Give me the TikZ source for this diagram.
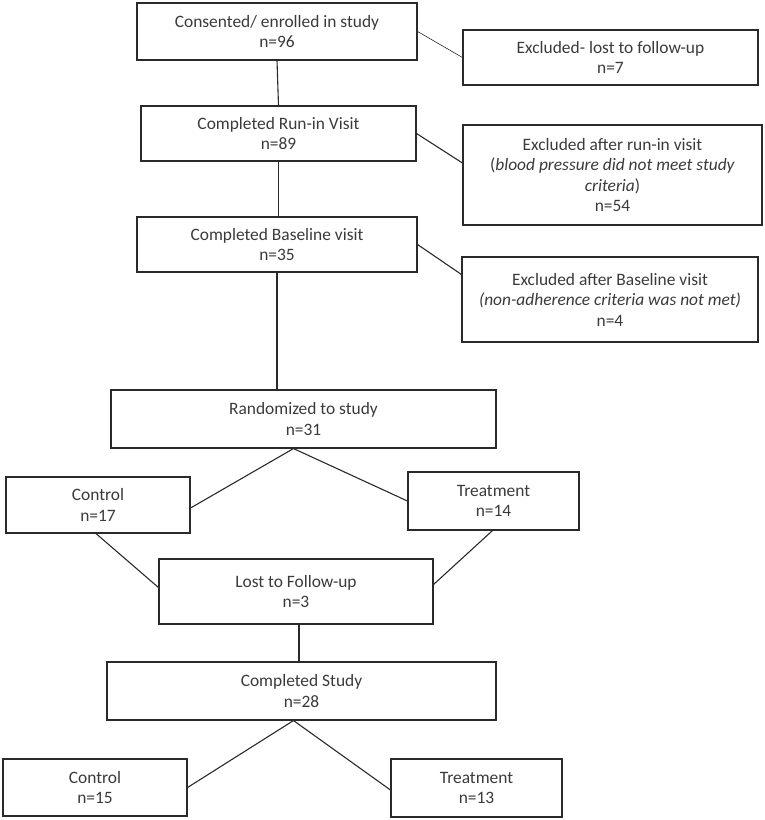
\documentclass[tikz,border=0pt]{standalone}
\usepackage{fontspec}
\setmainfont{Carlito}
\usetikzlibrary{positioning,calc}
\definecolor{txt}{HTML}{3A3A3A}
\definecolor{ln}{HTML}{2A2A2A}
\tikzset{
  box/.style={draw=ln, line width=1.1pt, rectangle, align=center, inner sep=0pt,
    text=txt, font=\fontsize{17.4}{20.5}\selectfont},
  conn/.style={draw=ln, line width=1.1pt},
}
\newcommand{\mkbox}[6]{% name, x1, y1, x2, y2, text
  \node[box, minimum width={(#4-#2)*1pt}, minimum height={(#5-#3)*1pt}]
    (#1) at ({(#2+#4)/2*1pt}, {-(#3+#5)/2*1pt}) {#6};}
\begin{document}
\begin{tikzpicture}
\useasboundingbox (0,0) rectangle (764pt,-820pt);
\mkbox{b1}{137}{3}{417}{60}{Consented/ enrolled in study\\n=96}
\mkbox{e1}{463}{30}{758}{85}{Excluded- lost to follow-up\\n=7}
\mkbox{b2}{141}{106}{416}{161}{Completed Run-in Visit\\n=89}
\mkbox{e2}{463}{125}{762}{225}{Excluded after run-in visit\\(\textit{blood pressure did not meet study}\\\textit{criteria})\\n=54}
\mkbox{b3}{137}{217}{417}{272}{Completed Baseline visit\\n=35}
\mkbox{e3}{462}{257}{758}{342}{Excluded after Baseline visit\\\textit{(non-adherence criteria was not met)}\\n=4}
\mkbox{rand}{111}{390}{496}{448}{Randomized to study\\n=31}
\mkbox{c1}{6}{477}{190}{533}{Control\\n=17}
\mkbox{t1}{408}{472}{579}{530}{Treatment\\n=14}
\mkbox{lost}{159}{559}{433}{624}{Lost to Follow-up\\n=3}
\mkbox{comp}{107}{662}{496}{720}{Completed Study\\n=28}
\mkbox{c2}{3}{759}{187}{816}{Control\\n=15}
\mkbox{t2}{391}{759}{562}{817}{Treatment\\n=13}

\draw[conn, line width=0.6pt] (b1.east) -- (e1.west);
\draw[conn] (b1.south) -- (b2.north);
\draw[conn] (b2.east) -- ([yshift=12pt]e2.west);
\draw[conn] (b2.south) -- (b2.south |- b3.north);
\draw[conn] (b3.east) -- ([yshift=25pt]e3.west);
\draw[conn] (b3.south) -- (b3.south |- rand.north);
\draw[conn] ([xshift=-10pt]rand.south) -- ([yshift=-3pt]c1.east);
\draw[conn] ([xshift=-10pt]rand.south) -- (t1.west);
\draw[conn] ([xshift=-2pt]c1.south) -- ([yshift=4pt]lost.west);
\draw[conn] ([xshift=-1pt]t1.south) -- ([yshift=7pt]lost.east);
\draw[conn] ([xshift=3pt]lost.south) -- ([xshift=3pt]lost.south |- comp.north);
\draw[conn] ([xshift=-8pt]comp.south) -- (c2.east);
\draw[conn] ([xshift=-8pt]comp.south) -- ([yshift=-2pt]t2.west);
\end{tikzpicture}
\end{document}
